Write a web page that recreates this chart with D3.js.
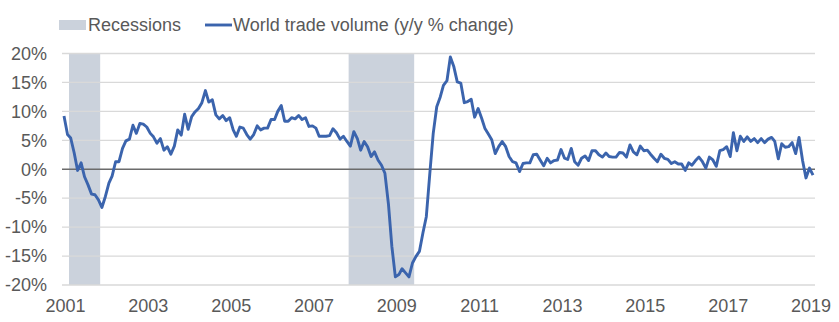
<!DOCTYPE html>
<html>
<head>
<meta charset="utf-8">
<script src="https://cdnjs.cloudflare.com/ajax/libs/d3/7.8.5/d3.min.js"></script>
<style>
  html, body { margin: 0; padding: 0; background: #ffffff; }
  svg { display: block; }
  text { font-family: "Liberation Sans", Arial, sans-serif; fill: #595959; }
</style>
</head>
<body>
<svg id="chart" width="839" height="322"></svg>
<script>
// ---- data ----
const startMonth = "2001-01";
const tradeVolume = [
  9.2, 6.0, 5.4, 2.8, -0.2, 1.1, -1.3, -2.7, -4.3, -4.4, -5.3, -6.6,
  -4.7, -2.4, -1.2, 1.3, 1.3, 3.6, 4.9, 5.2, 7.6, 6.2, 7.9, 7.8,
  7.3, 6.2, 5.6, 4.5, 5.3, 3.3, 3.9, 2.6, 4.0, 6.8, 5.9, 9.5,
  6.9, 9.1, 9.9, 10.5, 11.5, 13.6, 11.6, 12.0, 9.4, 8.7, 9.3, 8.4,
  8.9, 6.8, 5.7, 7.3, 7.1, 6.0, 5.2, 6.0, 7.5, 6.8, 7.1, 7.1,
  8.6, 8.6, 10.0, 11.0, 8.3, 8.3, 8.9, 8.7, 9.3, 8.6, 8.9, 7.4,
  7.5, 7.1, 5.7, 5.7, 5.7, 5.8, 7.0, 6.3, 5.2, 5.7, 4.8, 4.0,
  6.5, 5.3, 3.3, 4.8, 3.9, 2.2, 3.0, 1.6, 0.7, -0.7, -6.0, -13.3,
  -18.6, -18.2, -17.2, -17.9, -18.6, -16.2, -15.1, -14.2, -11.0, -8.2, -0.7, 6.2,
  10.8, 12.5, 14.5, 15.3, 19.4, 17.7, 15.1, 14.9, 11.5, 11.7, 12.1, 9.0,
  10.5, 8.8, 7.1, 6.1, 5.1, 2.7, 3.9, 4.8, 3.9, 2.2, 1.3, 1.1,
  -0.4, 1.0, 1.1, 1.1, 2.5, 2.6, 1.6, 0.6, 1.9, 1.1, 1.5, 1.6,
  3.4, 1.9, 1.7, 3.6, 1.3, 0.7, 1.9, 2.3, 1.5, 3.2, 3.2, 2.5,
  2.1, 2.8, 2.2, 2.1, 2.1, 2.9, 2.8, 2.1, 4.2, 3.0, 2.5, 4.0,
  3.2, 3.3, 2.6, 1.9, 1.3, 2.6, 1.9, 1.7, 1.0, 1.3, 0.9, 0.9,
  -0.2, 1.1, 0.7, 1.5, 2.1, 1.3, 0.2, 2.1, 1.6, 0.5, 3.2, 3.4,
  3.9, 2.2, 6.3, 3.2, 5.7, 4.8, 5.6, 4.8, 5.3, 4.6, 5.3, 4.6,
  5.2, 5.5, 4.8, 1.8, 4.4, 3.8, 3.9, 4.6, 2.7, 5.5, 1.5, -1.5,
  0.2, -1.0
];
const recessionStarts = ["2001-03", "2007-12"];
const recessionEnds = ["2001-11", "2009-06"];
const yTicks = [-20, -15, -10, -5, 0, 5, 10, 15, 20];
const xTickLabels = ["2001", "2003", "2005", "2007", "2009", "2011", "2013", "2015", "2017", "2019"];
const legendLabels = ["Recessions", "World trade volume (y/y % change)"];

// ---- setup ----
const parseMonth = d3.timeParse("%Y-%m");
const start = parseMonth(startMonth);
const series = tradeVolume.map((v, i) => ({ date: d3.timeMonth.offset(start, i), value: v }));

const svg = d3.select("#chart");
const plotLeft = 62, plotRight = 815;

const x = d3.scaleTime()
  .domain([series[0].date, series[series.length - 1].date])
  .range([64, 813]);
const y = d3.scaleLinear().domain([-20, 20]).range([285, 53.5]);

const lineColor = "#3b64ad";
const bandColor = "#cbd2dc";

// recession bands (each month is a column centered on its date)
const half = d => d3.timeDay.offset(d, -15);
const halfAfter = d => d3.timeDay.offset(d, 15);
svg.append("g").selectAll("rect")
  .data(recessionStarts.map((s, i) => ({ s: parseMonth(s), e: parseMonth(recessionEnds[i]) })))
  .join("rect")
  .attr("x", d => x(half(d.s)))
  .attr("width", d => x(halfAfter(d.e)) - x(half(d.s)))
  .attr("y", y(20))
  .attr("height", y(-20) - y(20))
  .attr("fill", bandColor);

// gridlines
svg.append("g").selectAll("line")
  .data(yTicks.filter(t => t !== 0))
  .join("line")
  .attr("x1", plotLeft).attr("x2", plotRight)
  .attr("y1", d => y(d)).attr("y2", d => y(d))
  .attr("stroke", "#d9d9d9").attr("stroke-width", 1.3);

// y-axis labels via d3 axis
const yAxis = d3.axisLeft(y).tickValues(yTicks).tickSize(0).tickPadding(0)
  .tickFormat(d => d + "%");
const yg = svg.append("g").attr("transform", `translate(${plotLeft - 15},0)`).call(yAxis);
yg.select(".domain").remove();
yg.selectAll("text").style("font-size", "18px").attr("fill", "#595959")
  .style("font-family", "'Liberation Sans', Arial, sans-serif");

// zero line
svg.append("line")
  .attr("x1", plotLeft).attr("x2", plotRight)
  .attr("y1", y(0)).attr("y2", y(0))
  .attr("stroke", "#6b6b6b").attr("stroke-width", 1.5);

// data line
svg.append("path")
  .datum(series)
  .attr("fill", "none")
  .attr("stroke", lineColor)
  .attr("stroke-width", 2.9)
  .attr("stroke-linejoin", "round")
  .attr("d", d3.line().x(d => x(d.date)).y(d => y(d.value)));

// x-axis labels via d3 axis
const xAxis = d3.axisBottom(x)
  .tickValues(xTickLabels.map(s => d3.timeParse("%Y")(s)))
  .tickSize(0).tickPadding(0)
  .tickFormat(d3.timeFormat("%Y"));
const xg = svg.append("g").attr("transform", `translate(1,${y(-20) + 14})`).call(xAxis);
xg.select(".domain").remove();
xg.selectAll("text").style("font-size", "18px").attr("fill", "#595959")
  .style("font-family", "'Liberation Sans', Arial, sans-serif");

// legend
const legend = svg.append("g");
legend.append("rect").attr("x", 59).attr("y", 20).attr("width", 27).attr("height", 10).attr("fill", bandColor);
legend.append("text").attr("x", 88).attr("y", 31).style("font-size", "18px").text(legendLabels[0]);
legend.append("line").attr("x1", 205).attr("x2", 232).attr("y1", 25).attr("y2", 25)
  .attr("stroke", lineColor).attr("stroke-width", 2.9);
legend.append("text").attr("x", 233).attr("y", 31).style("font-size", "18px").text(legendLabels[1]);
</script>
</body>
</html>
